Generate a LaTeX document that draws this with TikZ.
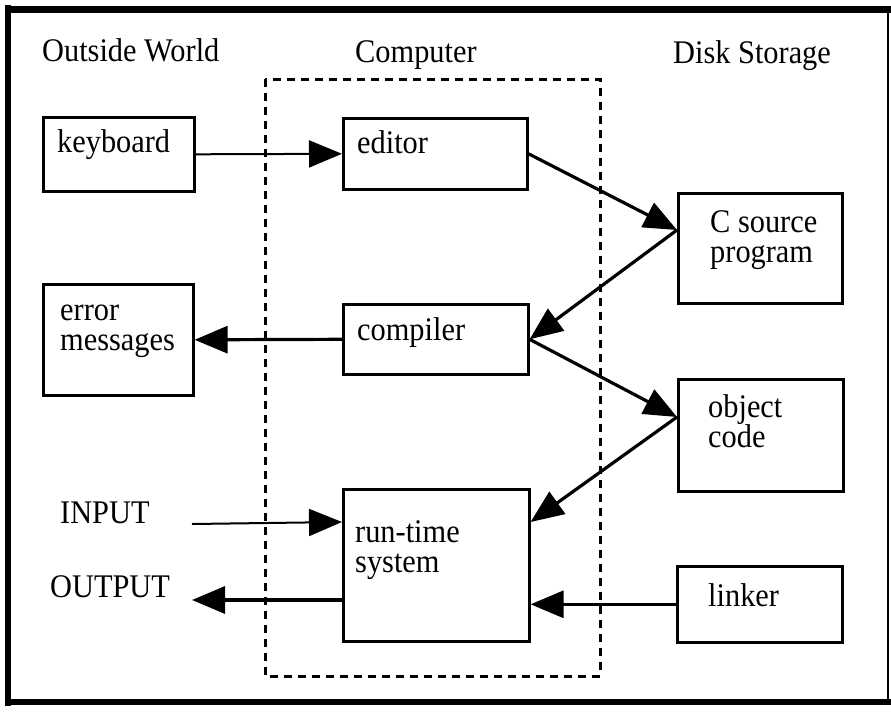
\documentclass[tikz,border=0pt]{standalone}
\usepackage{fontspec}
\setmainfont[FakeStretch=0.92]{Liberation Serif}
\usetikzlibrary{arrows.meta,calc}

\tikzset{
  boxst/.style={draw, line width=2.6pt, rectangle, inner sep=0pt},
  lbl/.style={inner sep=0pt, anchor=base west, font=\fontsize{33}{30}\selectfont},
  flow/.style={line width=3.2pt, -{Triangle[length=33pt,width=27pt]}},
  thinflow/.style={line width=2pt, -{Triangle[length=33pt,width=27pt]}},
  region/.style={line width=3pt, dash pattern=on 8pt off 6pt},
}

\newcommand{\boxat}[3]{% name, north-west corner, south-east corner
  \path let \p1=#2, \p2=#3 in
    node[boxst, anchor=north west, minimum width=\x2-\x1, minimum height=\y1-\y2] (#1) at #2 {};}

\begin{document}
\begin{tikzpicture}[x=1pt, y=-1pt]
  \useasboundingbox (0,0) rectangle (891,712);

  % outer frame
  \draw[line width=7pt] (5,9) -- (891,9);
  \draw[line width=6pt] (8,5) -- (8,706);
  \draw[line width=6pt] (5,702) -- (891,702);
  \draw[line width=1.5pt] (888,9) -- (888,702);

  % column headings
  \node[lbl] (hout) at (42,61) {Outside World};
  \node[lbl] (hcomp) at (355,62) {Computer};
  \node[lbl] (hdisk) at (673,63) {Disk Storage};

  % the computer
  \draw[region] (265,79) rectangle (600,676);

  % boxes
  \boxat{keyboard}{(42,116)}{(193,190)}
  \boxat{editor}{(342,117)}{(526,188)}
  \boxat{csource}{(677,192)}{(841,302)}
  \boxat{errors}{(42,283)}{(192,394)}
  \boxat{compiler}{(342,303)}{(527,373)}
  \boxat{object}{(677,378)}{(842,490)}
  \boxat{runtime}{(342,488)}{(528,640)}
  \boxat{linker}{(676,565)}{(841,641)}

  % box texts
  \node[lbl] (tkeyboard) at (57,152) {keyboard};
  \node[lbl] (teditor) at (357,153) {editor};
  \node[lbl] (tcsource1) at (710,232) {C source};
  \node[lbl] (tcsource2) at (710,262) {program};
  \node[lbl] (terrors1) at (60,320) {error};
  \node[lbl] (terrors2) at (60,350) {messages};
  \node[lbl] (tcompiler) at (357,340) {compiler};
  \node[lbl] (tobject1) at (708,417) {object};
  \node[lbl] (tobject2) at (708,447) {code};
  \node[lbl] (truntime1) at (355,542) {run-time};
  \node[lbl] (truntime2) at (355,572) {system};
  \node[lbl] (tlinker) at (708,606) {linker};

  % input / output
  \node[lbl] (input) at (60,523) {INPUT};
  \node[lbl] (output) at (50,597) {OUTPUT};

  % connector ports
  \coordinate (cs-port) at ($(csource.north west)+(0,38)$);
  \coordinate (ob-port) at ($(object.north west)+(0,39)$);
  \coordinate (rt-in) at ($(runtime.north west)+(0,34)$);
  \coordinate (rt-obj) at ($(runtime.north east)+(0,34)$);
  \coordinate (rt-out) at ($(runtime.north west)+(0,112)$);
  \coordinate (in-start) at (192,524);
  \coordinate (out-end) at (192,600);

  % data flow
  \draw[thinflow] (keyboard.east) -- (editor.west);
  \draw[flow] (editor.east) -- (cs-port);
  \draw[flow] (cs-port) -- (compiler.east);
  \draw[flow] (compiler.west) -- (errors.east);
  \draw[flow] (compiler.east) -- (ob-port);
  \draw[flow] (ob-port) -- (rt-obj);
  \draw[thinflow] (in-start) -- (rt-in);
  \draw[flow] (rt-out) -- (out-end);
  \draw[flow] (linker.west) -- (runtime.east |- linker.west);
\end{tikzpicture}
\end{document}
